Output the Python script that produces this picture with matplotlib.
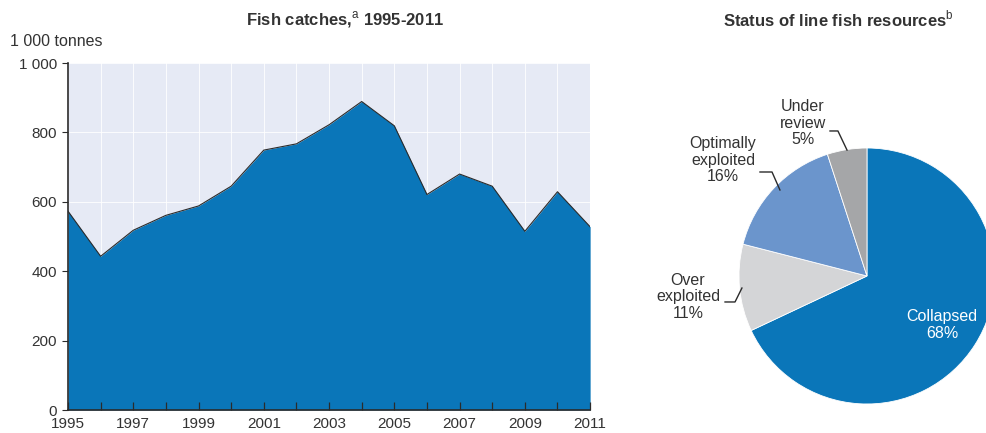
import matplotlib
matplotlib.use("Agg")
import matplotlib.pyplot as plt
from matplotlib.ticker import FuncFormatter, MultipleLocator, FixedLocator

plt.rcParams["font.family"] = ["Liberation Sans", "DejaVu Sans"]
plt.rcParams["mathtext.fontset"] = "custom"
plt.rcParams["mathtext.rm"] = "Liberation Sans"

# ── data ────────────────────────────────────────────────────────
years = list(range(1995, 2012))
catches = [573, 443, 518, 561, 588, 645, 749, 767, 822, 889,
           819, 621, 680, 645, 515, 629, 528]

pie_labels = ["Collapsed", "Over\nexploited", "Optimally\nexploited", "Under\nreview"]
pie_shares = [68, 11, 16, 5]

BLUE = "#0a76b9"
TEXT = "#333333"
pie_colors = [BLUE, "#d4d5d7", "#6b95cc", "#a5a6a8"]

fig = plt.figure(figsize=(9.87, 4.33), dpi=100)

# ── left: area chart ────────────────────────────────────────────
ax = fig.add_axes([0.0689, 0.0531, 0.529, 0.8014])
ax.set_facecolor("#e6eaf5")
ax.set_xlim(1995, 2011)
ax.set_ylim(0, 1000)
# faint white grid sitting under the filled area
for yr in years:
    ax.axvline(yr, color="white", lw=0.6, zorder=1)
for v in range(200, 1001, 200):
    ax.axhline(v, color="white", lw=0.6, zorder=1)
ax.fill_between(years, catches, 0, color=BLUE, lw=0, zorder=2)
ax.plot(years, catches, color="#2b2b2b", lw=0.8, zorder=3)
ax.set_axisbelow(False)  # ticks drawn over the blue fill

ax.xaxis.set_major_locator(FixedLocator(years[::2]))
ax.xaxis.set_minor_locator(MultipleLocator(1))
ax.yaxis.set_major_locator(MultipleLocator(200))
ax.yaxis.set_major_formatter(FuncFormatter(lambda v, p: f"{int(v):,}".replace(",", " ")))
for s in ["top", "right"]:
    ax.spines[s].set_visible(False)
for s in ["left", "bottom"]:
    ax.spines[s].set_color("#2b2b2b")
    ax.spines[s].set_linewidth(1.2)
    ax.spines[s].set_zorder(4)
ax.tick_params(axis="x", which="both", direction="in", length=6, width=0.9,
               color="#2b2b2b", labelsize=11, labelcolor=TEXT, pad=5)
ax.tick_params(axis="y", direction="out", length=4, color="#2b2b2b",
               labelsize=11, labelcolor=TEXT, pad=4)

fig.text(0.35, 0.955, r"Fish catches,$^{\mathrm{a}}$ 1995-2011", ha="center", va="center",
         fontsize=12, fontweight="bold", color=TEXT)
fig.text(0.01, 0.905, "1 000 tonnes", ha="left", va="center", fontsize=11.5, color=TEXT)

# ── right: pie ──────────────────────────────────────────────────
pax = fig.add_axes([0.7487, 0.0670, 0.2594, 0.5912])
wedges, _ = pax.pie(pie_shares, colors=pie_colors, startangle=90, counterclock=False,
                    wedgeprops=dict(edgecolor="white", linewidth=0.6))
for w in wedges:
    w.set_clip_on(False)
pax.set_xlim(-1, 1)
pax.set_ylim(-1, 1)
pax.set_aspect("equal")

def pct(i):
    return f"{pie_labels[i]}\n{pie_shares[i]}%"

fs = 11.5
pax.text(0.586, -0.383, pct(0), ha="center", va="center", fontsize=fs, color="white",
         linespacing=1.1, clip_on=False)
pax.text(-1.398, -0.164, pct(1), ha="center", va="center", fontsize=fs, color=TEXT,
         linespacing=1.1, clip_on=False)
pax.text(-1.125, 0.906, pct(2), ha="center", va="center", fontsize=fs, color=TEXT,
         linespacing=1.1, clip_on=False)
pax.text(-0.5, 1.195, pct(3), ha="center", va="center", fontsize=fs, color=TEXT,
         linespacing=1.1, clip_on=False)

leaders = [
    ([-1.109, -1.031, -0.977], [-0.203, -0.203, -0.094]),
    ([-0.836, -0.742, -0.680], [0.8125, 0.8125, 0.672]),
    ([-0.289, -0.227, -0.156], [1.133, 1.133, 0.984]),
]
for lx, ly in leaders:
    pax.plot(lx, ly, color="#2b2b2b", lw=1.0, clip_on=False)

fig.text(0.849, 0.955, r"Status of line fish resources$^{\mathrm{b}}$", ha="center",
         va="center", fontsize=12, fontweight="bold", color=TEXT)

fig.savefig("out.png", dpi=100)
